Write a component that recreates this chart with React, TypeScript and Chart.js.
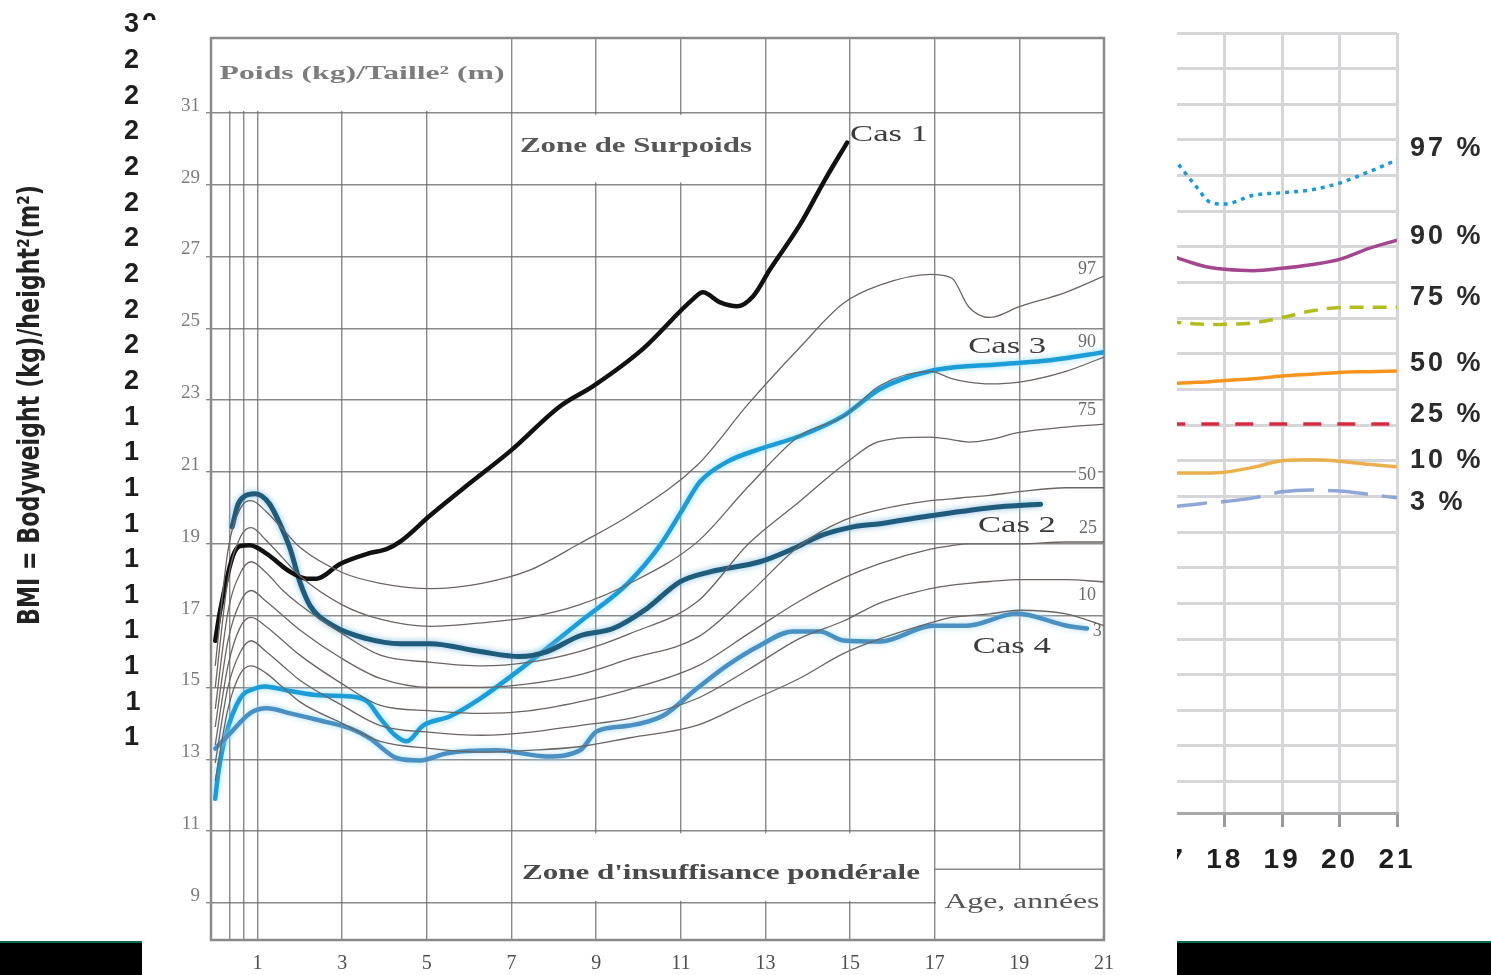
import React, { useEffect, useRef } from "react";
import { Chart, registerables } from "chart.js";

Chart.register(...registerables);

// ---------------- Main chart (age in years, BMI kg/m²) ----------------
const percentileAges = [0, 0.3, 0.6, 0.85, 1.2, 1.6, 2, 3, 3.9, 5.1, 6.3, 7.4, 8.6, 9.8, 11.4, 12.6, 13.8, 14.85, 15.7, 16.9, 17.4, 17.8, 18.3, 19, 20.1, 21];
const p97 = [15.6, 18.8, 20.0, 20.2, 19.9, 19.4, 18.9, 18.2, 17.9, 17.75, 17.9, 18.25, 19.0, 19.8, 21.2, 22.9, 24.45, 25.7, 26.2, 26.5, 26.4, 25.6, 25.3, 25.6, 26.0, 26.45];
const p90 = [15.0, 18.0, 19.2, 19.45, 19.1, 18.6, 18.1, 17.3, 16.9, 16.7, 16.8, 16.95, 17.3, 17.9, 19.06, 20.6, 22.0, 22.55, 23.4, 23.8, 23.6, 23.5, 23.45, 23.5, 23.8, 24.2];
const p75 = [14.4, 17.1, 18.2, 18.5, 18.2, 17.7, 17.3, 16.5, 15.9, 15.7, 15.6, 15.7, 16.0, 16.5, 17.4, 19.0, 20.17, 21.2, 21.85, 21.97, 21.9, 21.83, 21.9, 22.1, 22.25, 22.33];
const p50 = [13.9, 16.3, 17.4, 17.7, 17.4, 17.0, 16.6, 15.8, 15.25, 15.0, 15.0, 15.1, 15.35, 15.8, 16.4, 17.6, 18.94, 19.65, 19.95, 20.2, 20.25, 20.3, 20.35, 20.45, 20.56, 20.56];
const p25 = [13.4, 15.6, 16.7, 16.95, 16.7, 16.3, 15.9, 15.1, 14.5, 14.35, 14.28, 14.35, 14.6, 14.95, 15.6, 16.5, 17.4, 18.05, 18.45, 18.85, 18.95, 19.0, 19.0, 19.0, 19.05, 19.05];
const p10 = [12.9, 15.0, 16.0, 16.3, 16.0, 15.6, 15.2, 14.5, 13.94, 13.75, 13.67, 13.75, 13.94, 14.14, 14.7, 15.5, 16.36, 16.85, 17.35, 17.75, 17.85, 17.9, 17.95, 18.0, 18.0, 17.94];
const p3 = [12.4, 14.4, 15.4, 15.6, 15.4, 15.0, 14.6, 14.0, 13.5, 13.3, 13.2, 13.25, 13.35, 13.6, 13.95, 14.6, 15.25, 15.95, 16.35, 16.8, 16.95, 17.0, 17.05, 17.15, 17.05, 16.72];
const percentileSeries = [p97, p90, p75, p50, p25, p10, p3];
const percentileNames = ["97", "90", "75", "50", "25", "10", "3"];
const percentileLabelAges = [20.6, 20.6, 20.6, 20.6, 20.62, 20.6, 20.84];
const percentileLabelValues = [26.64, 24.6, 22.72, 20.92, 19.42, 17.56, 16.56];

const cas1Ages = [0, 0.11, 0.42, 0.59, 0.82, 1.22, 1.77, 2.17, 2.4, 2.95, 3.59, 4.06, 4.37, 5.07, 6.02, 6.97, 8.15, 8.93, 10.1, 11.29, 11.52, 11.93, 12.33, 12.71, 13.11, 13.82, 14.41, 14.93];
const cas1Values = [16.3, 17.1, 18.67, 18.94, 18.96, 18.72, 18.22, 18.03, 18.03, 18.44, 18.72, 18.86, 19.06, 19.78, 20.69, 21.58, 22.83, 23.39, 24.42, 25.81, 26.0, 25.72, 25.61, 25.89, 26.64, 27.89, 29.14, 30.17];
const cas2Ages = [0.4, 0.54, 0.7, 0.94, 1.1, 1.29, 1.53, 1.77, 2.0, 2.24, 2.78, 3.58, 4.37, 5.07, 6.26, 7.2, 7.84, 8.62, 9.4, 10.2, 10.98, 11.69, 12.87, 13.65, 14.29, 15.07, 15.71, 16.9, 18.55, 19.5];
const cas2Values = [19.47, 20.1, 20.33, 20.39, 20.33, 20.1, 19.55, 18.86, 17.94, 17.28, 16.72, 16.36, 16.22, 16.22, 16.0, 15.86, 16.0, 16.44, 16.64, 17.2, 17.94, 18.22, 18.5, 18.86, 19.22, 19.47, 19.56, 19.78, 20.03, 20.1];
const cas3Ages = [0, 0.07, 0.23, 0.59, 0.94, 1.17, 1.77, 2.48, 3.19, 3.6, 3.9, 4.25, 4.53, 4.91, 5.55, 6.26, 7.44, 8.62, 9.75, 10.5, 11.05, 11.45, 12.09, 12.87, 13.82, 14.84, 15.71, 16.9, 18.55, 19.73, 21];
const cas3Values = [11.9, 12.6, 13.58, 14.7, 14.97, 15.03, 14.9, 14.78, 14.75, 14.6, 14.14, 13.67, 13.5, 13.94, 14.2, 14.69, 15.72, 16.83, 17.9, 18.94, 19.97, 20.72, 21.28, 21.64, 22.0, 22.56, 23.31, 23.81, 24.0, 24.11, 24.33];
const cas4Ages = [0, 0.35, 0.82, 1.22, 1.77, 2.48, 3.19, 3.66, 4.3, 4.84, 5.48, 6.66, 7.84, 8.62, 9.02, 9.8, 10.59, 11.38, 12.09, 12.87, 13.65, 14.29, 14.84, 15.71, 16.96, 17.76, 18.94, 20.12, 20.6];
const cas4Values = [13.3, 13.72, 14.28, 14.42, 14.28, 14.08, 13.86, 13.58, 13.03, 12.97, 13.17, 13.25, 13.08, 13.25, 13.78, 13.94, 14.22, 14.97, 15.61, 16.17, 16.56, 16.56, 16.31, 16.28, 16.72, 16.72, 17.06, 16.72, 16.64];
const casNames = ["Cas 1", "Cas 3", "Cas 2", "Cas 4"];
const casLabelAges = [15.0, 17.79, 18.02, 17.9];
const casLabelValues = [30.39, 24.5, 19.5, 16.14];

const mainYTicks = [9, 11, 13, 15, 17, 19, 21, 23, 25, 27, 29, 31];
const mainXTicks = [1 / 3, 2 / 3, 1, 3, 5, 7, 9, 11, 13, 15, 17, 19, 21];
const mainXLabels = [1, 3, 5, 7, 9, 11, 13, 15, 17, 19, 21];

// ---------------- Background chart (right panel, ages 17-21) ----------------
const rightAges = [17, 17.25, 17.5, 17.75, 18, 18.5, 19, 19.5, 20, 20.5, 21];
const r97 = [26.7, 26.2, 25.7, 25.25, 25.2, 25.45, 25.52, 25.6, 25.79, 26.1, 26.44];
const r90 = [23.8, 23.65, 23.52, 23.42, 23.37, 23.33, 23.4, 23.5, 23.65, 23.95, 24.19];
const r75 = [21.9, 21.87, 21.84, 21.82, 21.83, 21.87, 22.02, 22.2, 22.3, 22.31, 22.31];
const r50 = [20.16, 20.18, 20.2, 20.22, 20.25, 20.3, 20.38, 20.43, 20.48, 20.5, 20.52];
const r25 = [19.03, 19.03, 19.03, 19.03, 19.03, 19.03, 19.03, 19.03, 19.03, 19.03, 19.03];
const r10 = [17.66, 17.66, 17.66, 17.66, 17.68, 17.82, 18.0, 18.03, 17.99, 17.9, 17.83];
const r3 = [16.7, 16.74, 16.78, 16.83, 16.86, 16.96, 17.13, 17.18, 17.15, 17.06, 16.96];
const rightSeries = [r97, r90, r75, r50, r25, r10, r3];
const rightLabels = ["97 %", "90 %", "75 %", "50 %", "25 %", "10 %", "3 %"];
const rightLabelValues = [26.77, 24.3, 22.57, 20.72, 19.31, 18.02, 16.82];
const rightYTicks = [9, 10, 11, 12, 13, 14, 15, 16, 17, 18, 19, 20, 21, 22, 23, 24, 25, 26, 27, 28, 29, 30];
const rightXTicks = [0, 1, 2, 3, 4, 5, 6, 7, 8, 9, 10, 11, 12, 13, 14, 15, 16, 17, 18, 19, 20, 21];

// ---------------- styles ----------------
const serif = "'Liberation Serif', 'Times New Roman', serif";
const sans = "'Liberation Sans', Arial, sans-serif";
const narrow = "'Liberation Sans Narrow', 'DejaVu Sans Condensed', 'Liberation Sans', sans-serif";
const mainGrid = "rgba(105,105,105,0.78)";
const rightColors = ["#1b9ad9", "#a4468e", "#b3bc1d", "#f7941d", "#d72b43", "#e8b14e", "#8fa7d7"];
const rightDashes: number[][] = [[4, 5], [], [14, 9], [], [18, 16], [], [40, 14]];

const pts = (xs: number[], ys: number[]) => xs.map((x, i) => ({ x, y: ys[i] }));

function fitText(ctx: any, text: string, x: number, y: number, w: number, font: string, color: string, align = "center") {
  ctx.save();
  ctx.font = font;
  ctx.fillStyle = color;
  ctx.textBaseline = "middle";
  ctx.textAlign = align;
  const m = ctx.measureText(text).width || 1;
  ctx.translate(x, y);
  ctx.scale(w / m, 1);
  ctx.fillText(text, 0, 0);
  ctx.restore();
}

const zeroPad = (s: any) => {
  s.paddingTop = 0;
  s.paddingBottom = 0;
  s.paddingLeft = 0;
  s.paddingRight = 0;
};

const haloPlugin = {
  id: "halo",
  beforeDatasetDraw(chart: any, args: any) {
    const ds = chart.data.datasets[args.index];
    if (ds.halo) {
      chart.ctx.save();
      chart.ctx.shadowColor = ds.halo;
      chart.ctx.shadowBlur = 6;
    }
  },
  afterDatasetDraw(chart: any, args: any) {
    const ds = chart.data.datasets[args.index];
    if (ds.halo) chart.ctx.restore();
  },
};

const mainDecor = {
  id: "mainDecor",
  beforeDatasetsDraw(chart: any) {
    const { ctx, chartArea: a, scales } = chart;
    const X = (v: number) => scales.x.getPixelForValue(v);
    const Y = (v: number) => scales.y.getPixelForValue(v);
    ctx.save();
    ctx.fillStyle = "#fff";
    const rect = (x0: number, x1: number, y0: number, y1: number) =>
      ctx.fillRect(X(x0), Y(y1), X(x1) - X(x0), Y(y0) - Y(y1));
    rect(-0.1, 6.96, 31.05, 33.08);
    rect(7.07, 12.95, 29.06, 30.94);
    rect(7.07, 16.95, 9.06, 10.94);
    rect(17.03, 21, 7.97, 9.94);
    ctx.strokeStyle = mainGrid;
    ctx.lineWidth = 1.4;
    ctx.beginPath();
    ctx.moveTo(X(17), Y(9.94));
    ctx.lineTo(X(21), Y(9.94));
    ctx.stroke();

    ctx.font = `18px ${serif}`;
    ctx.textAlign = "center";
    ctx.textBaseline = "middle";
    percentileNames.forEach((n, i) => {
      const px = X(percentileLabelAges[i]);
      const py = Y(percentileLabelValues[i]);
      const w = ctx.measureText(n).width;
      ctx.fillStyle = "#fff";
      ctx.fillRect(px - w / 2 - 2, py - 9, w + 4, 18);
      ctx.fillStyle = "#6a6a6a";
      ctx.fillText(n, px, py);
    });

    fitText(ctx, "Poids (kg)/Taille² (m)", X(3.47), Y(32.08), 285, `bold 19px ${serif}`, "#7c7c7c");
    fitText(ctx, "Zone de Surpoids", X(9.94), Y(30.06), 232, `bold 20px ${serif}`, "#565656");
    fitText(ctx, "Zone d'insuffisance pondérale", X(11.95), Y(9.8), 398, `bold 20px ${serif}`, "#4a4a4a");
    fitText(ctx, "Age, années", X(19.06), Y(9.0), 155, `20px ${serif}`, "#555555");

    ctx.strokeStyle = "#8a8a8a";
    ctx.lineWidth = 2.5;
    ctx.strokeRect(a.left, a.top, a.right - a.left, a.bottom - a.top);
    ctx.restore();
  },
  afterDatasetsDraw(chart: any) {
    const { ctx, scales } = chart;
    casNames.forEach((n, i) => {
      fitText(
        ctx,
        n,
        scales.x.getPixelForValue(casLabelAges[i]),
        scales.y.getPixelForValue(casLabelValues[i]),
        78,
        `24px ${serif}`,
        "#3c3c3c",
        "left"
      );
    });
  },
};

const bgDecor = {
  id: "bgDecor",
  beforeDraw(chart: any) {
    chart.ctx.letterSpacing = "3px";
  },
  afterDraw(chart: any) {
    const { ctx, scales, chartArea } = chart;
    ctx.save();
    ctx.letterSpacing = "0px";
    ctx.translate(31, 405);
    ctx.rotate(-Math.PI / 2);
    fitText(ctx, "BMI = Bodyweight (kg)/height²(m²)", 0, 0, 440, `bold 30px ${narrow}`, "#222222");
    ctx.restore();

    ctx.save();
    ctx.letterSpacing = "3px";
    ctx.font = `bold 27px ${sans}`;
    ctx.fillStyle = "#2b2b2b";
    ctx.textAlign = "left";
    ctx.textBaseline = "middle";
    rightLabels.forEach((t, i) => {
      ctx.fillText(t, chartArea.right + 13, scales.y.getPixelForValue(rightLabelValues[i]));
    });
    ctx.restore();
  },
};

function bgConfig(): any {
  return {
    type: "line",
    data: {
      datasets: rightSeries.map((s, i) => ({
        data: pts(rightAges, s),
        borderColor: rightColors[i],
        borderWidth: 3.5,
        borderDash: rightDashes[i],
        pointRadius: 0,
        fill: false,
        cubicInterpolationMode: "monotone",
      })),
    },
    options: {
      animation: false,
      responsive: false,
      devicePixelRatio: 1,
      layout: { padding: { top: 33, right: 94, left: 0, bottom: 0 } },
      plugins: { legend: { display: false }, tooltip: { enabled: false } },
      scales: {
        x: {
          type: "linear",
          min: 0,
          max: 21,
          afterBuildTicks: (s: any) => {
            s.ticks = rightXTicks.map((v) => ({ value: v }));
          },
          afterFit: (s: any) => {
            s.height = 162;
            zeroPad(s);
          },
          ticks: {
            autoSkip: false,
            maxRotation: 0,
            padding: 16,
            color: "#1e1e1e",
            font: { family: sans, size: 28, weight: "bold" },
          },
          grid: { color: "#d6d6d8", lineWidth: 3, tickLength: 14, tickColor: "#9a9a9a", tickWidth: 3 },
          border: { display: true, color: "#a9a9ab", width: 3 },
        },
        y: {
          type: "linear",
          min: 8.12,
          max: 30,
          afterBuildTicks: (s: any) => {
            s.ticks = rightYTicks.map((v) => ({ value: v }));
          },
          afterFit: (s: any) => {
            s.width = 191;
            zeroPad(s);
          },
          ticks: {
            autoSkip: false,
            padding: 31,
            labelOffset: -8,
            color: "#1e1e1e",
            font: { family: sans, size: 27, weight: "bold" },
          },
          grid: { color: "#d6d6d8", lineWidth: 3, drawTicks: false },
          border: { display: false },
        },
      },
    },
    plugins: [bgDecor],
  };
}

function mainConfig(): any {
  const pctSets = percentileSeries.map((s) => ({
    data: pts(percentileAges, s),
    borderColor: "#6b6562",
    borderWidth: 1.3,
    pointRadius: 0,
    fill: false,
    cubicInterpolationMode: "monotone",
  }));
  const cas = (xs: number[], ys: number[], color: string, width: number, halo: string | null) => ({
    data: pts(xs, ys),
    borderColor: color,
    borderWidth: width,
    pointRadius: 0,
    fill: false,
    cubicInterpolationMode: "monotone",
    borderCapStyle: "round",
    halo,
  });
  return {
    type: "line",
    data: {
      datasets: [
        ...pctSets,
        cas(cas1Ages, cas1Values, "#111111", 4.5, null),
        cas(cas4Ages, cas4Values, "#4a90c2", 4.5, "#a8dcf4"),
        cas(cas2Ages, cas2Values, "#1f5b7a", 5, "#86bddc"),
        cas(cas3Ages, cas3Values, "#1d9dd8", 4.5, "#8fdcf7"),
      ],
    },
    options: {
      animation: false,
      responsive: false,
      devicePixelRatio: 1,
      layout: { padding: { top: 18, right: 73, left: 0, bottom: 0 } },
      plugins: { legend: { display: false }, tooltip: { enabled: false } },
      scales: {
        x: {
          type: "linear",
          min: -0.1,
          max: 21,
          afterBuildTicks: (s: any) => {
            s.ticks = mainXTicks.map((v) => ({ value: v }));
          },
          afterFit: (s: any) => {
            s.height = 35;
            zeroPad(s);
          },
          ticks: {
            autoSkip: false,
            maxRotation: 0,
            padding: 12,
            color: "#4e4e4e",
            font: { family: serif, size: 20 },
            callback: (v: number) => (mainXLabels.includes(v) ? String(v) : ""),
          },
          grid: { color: mainGrid, lineWidth: 1.4, drawTicks: false },
          border: { display: false },
        },
        y: {
          type: "linear",
          min: 7.97,
          max: 33.08,
          afterBuildTicks: (s: any) => {
            s.ticks = mainYTicks.map((v) => ({ value: v }));
          },
          afterFit: (s: any) => {
            s.width = 69;
            zeroPad(s);
          },
          ticks: {
            autoSkip: false,
            padding: 6,
            labelOffset: -7,
            color: "#7d7d7d",
            font: { family: serif, size: 19 },
          },
          grid: { color: mainGrid, lineWidth: 1.4, tickLength: 5, tickColor: "#8a8a8a" },
          border: { display: false },
        },
      },
    },
    plugins: [haloPlugin, mainDecor],
  };
}

export default function App() {
  const bgRef = useRef<HTMLCanvasElement>(null);
  const mainRef = useRef<HTMLCanvasElement>(null);

  useEffect(() => {
    const bg = new Chart(bgRef.current as HTMLCanvasElement, bgConfig());
    const main = new Chart(mainRef.current as HTMLCanvasElement, mainConfig());
    return () => {
      bg.destroy();
      main.destroy();
    };
  }, []);

  return (
    <div style={{ position: "fixed", left: 0, top: 0, width: 1491, height: 975, background: "#fff", overflow: "hidden" }}>
      <canvas
        ref={bgRef}
        width={1491}
        height={975}
        style={{ position: "absolute", left: 0, top: 0, width: 1491, height: 975 }}
      />
      <div
        style={{
          position: "absolute",
          left: 0,
          top: 941,
          width: 1491,
          height: 34,
          background: "#000",
          borderTop: "2px solid #0b6b4e",
          boxSizing: "border-box",
        }}
      />
      <canvas
        ref={mainRef}
        width={1035}
        height={955}
        style={{ position: "absolute", left: 142, top: 20, width: 1035, height: 955, background: "#fff" }}
      />
    </div>
  );
}
